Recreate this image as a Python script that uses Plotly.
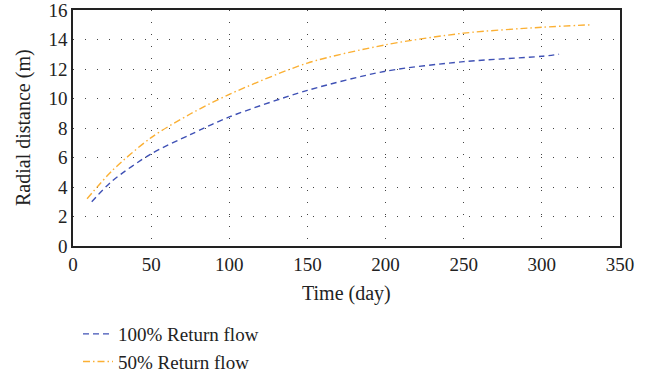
import plotly.graph_objects as go

# Radial spread of the return-flow front over time
days_full = [12, 25, 50, 75, 100, 150, 200, 250, 300, 311]
radius_full = [3.0, 4.4, 6.25, 7.55, 8.75, 10.55, 11.85, 12.5, 12.86, 13.0]

days_half = [9, 25, 50, 75, 100, 150, 200, 250, 300, 332]
radius_half = [3.2, 5.1, 7.35, 8.95, 10.28, 12.4, 13.64, 14.43, 14.83, 15.0]

x_ticks = [0, 50, 100, 150, 200, 250, 300, 350]
y_ticks = [0, 2, 4, 6, 8, 10, 12, 14, 16]

SERIF = "'Liberation Serif', 'Times New Roman', 'DejaVu Serif', serif"
INK = "#222"
W, H = 650, 376
M_L, M_R, M_T, M_B = 73, 30, 10, 130
PW, PH = W - M_L - M_R, H - M_T - M_B

fig = go.Figure()
fig.add_trace(go.Scatter(
    x=days_full, y=radius_full, mode="lines", name="100% Return flow",
    line=dict(color="#3F51B5", width=1.4, dash="6px,4px", shape="spline", smoothing=0.8),
))
fig.add_trace(go.Scatter(
    x=days_half, y=radius_half, mode="lines", name="50% Return flow",
    line=dict(color="#FBB034", width=1.4, dash="7px,3px,1.5px,3px", shape="spline", smoothing=0.8),
))

axis_common = dict(
    showline=True, linecolor=INK, linewidth=1.5, mirror=True,
    showgrid=True, gridcolor="#444", gridwidth=1, griddash="1px,11px",
    zeroline=False, ticks="", automargin=False, ticklabeloverflow="allow",
    tickfont=dict(family=SERIF, size=19, color=INK),
)

fig.update_xaxes(range=[0, 350], tickvals=x_ticks, **axis_common)
fig.update_yaxes(range=[0, 16], tickvals=y_ticks, **axis_common)

# Axis titles, positioned in paper coordinates (pixel offsets from the plot area)
fig.add_annotation(text="Time (day)", xref="paper", x=0.5, yref="paper", y=-(293 - (H - M_B)) / PH,
                   xanchor="center", yanchor="middle", showarrow=False,
                   font=dict(family=SERIF, size=20, color=INK))
fig.add_annotation(text="Radial distance (m)", xref="paper", x=(23 - M_L) / PW, yref="paper", y=0.5,
                   xanchor="center", yanchor="middle", showarrow=False, textangle=-90,
                   font=dict(family=SERIF, size=20, color=INK))

fig.update_layout(
    width=W, height=H,
    margin=dict(l=M_L, r=M_R, t=M_T, b=M_B, autoexpand=False),
    plot_bgcolor="white", paper_bgcolor="white",
    legend=dict(
        orientation="v", xref="container", x=78 / W, xanchor="left",
        yref="container", y=1 - 315 / H, yanchor="top",
        font=dict(family=SERIF, size=19, color=INK),
        bgcolor="rgba(0,0,0,0)", tracegroupgap=0,
    ),
    showlegend=True,
)

fig.write_html("out.html")
